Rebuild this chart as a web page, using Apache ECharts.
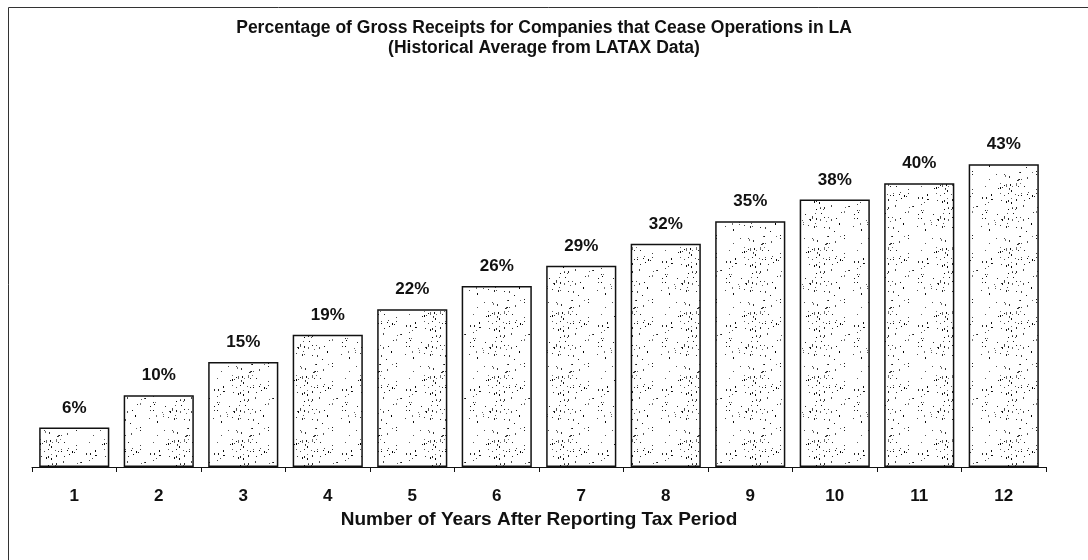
<!DOCTYPE html>
<html>
<head>
<meta charset="utf-8">
<script src="https://cdn.jsdelivr.net/npm/echarts@6/dist/echarts.min.js"></script>
<style>
  html, body { margin: 0; padding: 0; background: #fff; }
  #chart { width: 1088px; height: 560px; }
</style>
</head>
<body>
<div id="chart"></div>
<script>
const years = ["1", "2", "3", "4", "5", "6", "7", "8", "9", "10", "11", "12"];
const pctReceipts = [5.6, 10.2, 14.9, 18.8, 22.4, 25.7, 28.6, 31.7, 34.9, 38.0, 40.3, 43.0];

// stipple texture like the scanned print
function stipple() {
  const c = document.createElement("canvas");
  c.width = 64;
  c.height = 64;
  const ctx = c.getContext("2d");
  ctx.fillStyle = "#fff";
  ctx.fillRect(0, 0, 64, 64);
  let s = 7;
  const next = () => {
    s = (s * 16807) % 2147483647;
    return s / 2147483647;
  };
  for (let i = 0; i < 110; i++) {
    const x = Math.floor(next() * 64);
    const y = Math.floor(next() * 64);
    const g = Math.floor(next() * 120);
    ctx.fillStyle = `rgb(${g},${g},${g})`;
    ctx.fillRect(x, y, 1, next() > 0.7 ? 2 : 1);
  }
  return c;
}

const chart = echarts.init(document.getElementById("chart"));
const font = "'Liberation Sans', Arial, sans-serif";

chart.setOption({
  animation: false,
  textStyle: { fontFamily: font },
  title: {
    text: "Percentage of Gross Receipts for Companies that Cease Operations in LA\n(Historical Average from LATAX Data)",
    left: "center",
    top: 13,
    textStyle: {
      fontFamily: font,
      fontSize: 17.5,
      fontWeight: "bold",
      color: "#111",
      lineHeight: 20,
    },
  },
  graphic: [
    {
      type: "rect",
      shape: { x: 8.5, y: 7.5, width: 1200, height: 700 },
      style: { fill: null, stroke: "#333", lineWidth: 1 },
      silent: true,
    },
  ],
  grid: { left: 32, right: 42, top: 115, bottom: 93 },
  xAxis: {
    type: "category",
    data: years,
    name: "Number of Years After Reporting Tax Period",
    nameLocation: "middle",
    nameGap: 42,
    nameTextStyle: { fontFamily: font, fontSize: 19, fontWeight: "bold", color: "#111" },
    axisLine: { lineStyle: { color: "#111", width: 1 } },
    axisTick: { show: true, inside: false, length: 5, lineStyle: { color: "#111" } },
    axisLabel: { fontFamily: font, fontSize: 17, fontWeight: "bold", color: "#111", margin: 21 },
  },
  yAxis: {
    type: "value",
    min: 0,
    max: 50,
    show: false,
    splitLine: { show: false },
  },
  series: [
    {
      type: "bar",
      data: pctReceipts,
      barCategoryGap: "17%",
      itemStyle: {
        color: { image: stipple(), repeat: "repeat" },
        borderColor: "#111",
        borderWidth: 1.5,
      },
      label: {
        show: true,
        position: "top",
        distance: 11,
        fontFamily: font,
        fontSize: 17,
        fontWeight: "bold",
        color: "#111",
        formatter: (p) => Math.round(p.value) + "%",
      },
    },
  ],
});
</script>
</body>
</html>
